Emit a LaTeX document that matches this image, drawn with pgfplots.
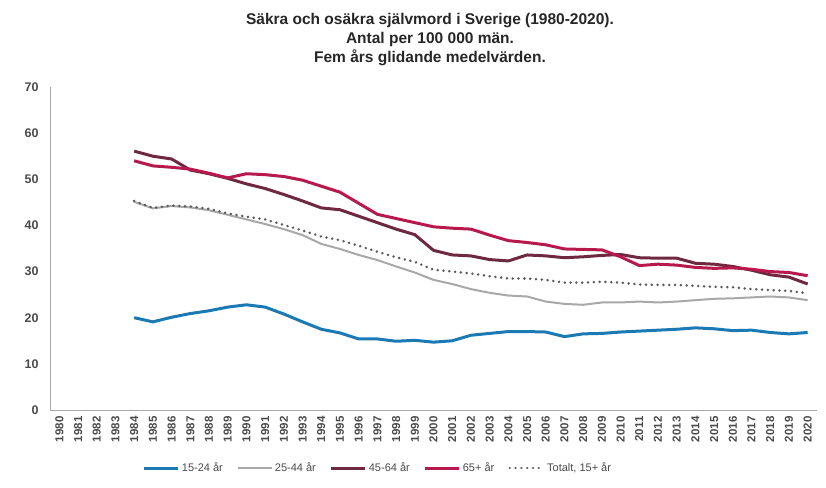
\documentclass[border=0pt]{standalone}
\usepackage{fontspec}
\setmainfont{Liberation Sans}
\usepackage{pgfplots}
\usepackage{pgfplotstable}
\pgfplotsset{compat=1.18}
\definecolor{cBlue}{HTML}{1B7AB3}
\definecolor{cGray}{HTML}{A8A8A8}
\definecolor{cMaroon}{HTML}{6E2840}
\definecolor{cRed}{HTML}{B8194C}
\definecolor{cDot}{HTML}{5A5A5A}
\definecolor{cTick}{HTML}{4A4A4A}
\pgfplotstableread{
year a b c d t
1984 20.0 45.1 56.1 54.0 45.3
1985 19.1 43.7 55.0 52.9 43.8
1986 20.1 44.2 54.4 52.6 44.3
1987 20.9 43.9 52.0 52.2 44.1
1988 21.5 43.3 51.2 51.3 43.6
1989 22.3 42.3 50.2 50.3 42.6
1990 22.8 41.3 49.0 51.2 41.9
1991 22.3 40.3 48.0 51.0 41.3
1992 20.8 39.2 46.7 50.6 40.1
1993 19.1 37.9 45.3 49.8 38.9
1994 17.5 36.0 43.8 48.5 37.6
1995 16.7 34.9 43.4 47.2 36.8
1996 15.4 33.6 42.0 44.8 35.6
1997 15.4 32.5 40.6 42.4 34.3
1998 14.9 31.1 39.2 41.5 33.1
1999 15.1 29.8 38.0 40.6 32.1
2000 14.7 28.2 34.6 39.7 30.4
2001 15.0 27.3 33.6 39.4 30.0
2002 16.2 26.2 33.4 39.2 29.6
2003 16.6 25.4 32.6 37.9 29.0
2004 17.0 24.8 32.3 36.7 28.5
2005 17.0 24.6 33.6 36.3 28.5
2006 16.9 23.5 33.4 35.8 28.2
2007 15.9 23.0 33.0 34.9 27.6
2008 16.5 22.8 33.2 34.8 27.6
2009 16.6 23.3 33.5 34.7 27.8
2010 16.9 23.3 33.7 33.2 27.6
2011 17.1 23.5 33.0 31.3 27.2
2012 17.3 23.3 32.9 31.6 27.1
2013 17.5 23.5 32.9 31.4 27.1
2014 17.8 23.8 31.8 30.9 26.9
2015 17.6 24.1 31.6 30.7 26.7
2016 17.2 24.2 31.1 30.8 26.6
2017 17.3 24.4 30.3 30.5 26.2
2018 16.8 24.6 29.3 30.0 26.0
2019 16.5 24.4 28.8 29.8 25.8
2020 16.8 23.8 27.3 29.1 25.3
}\data
\begin{document}
\begin{tikzpicture}
\path[use as bounding box] (0,0) rectangle (826pt,487pt);
\node[align=center, font=\fontsize{15.5}{19}\selectfont\bfseries, text=black!85] at (430pt,447pt)
  {Säkra och osäkra självmord i Sverige (1980-2020).\\Antal per 100 000 män.\\Fem års glidande medelvärden.};
\begin{axis}[
  at={(50pt,77pt)}, anchor=south west,
  scale only axis, width=767pt, height=323pt,
  xmin=1979.5, xmax=2020.5, ymin=0, ymax=70,
  xtick={1980,1981,...,2020}, ytick={0,10,...,70},
  axis x line*=bottom, axis y line*=left,
  axis line style={cGray, line width=1pt, -},
  major tick length=0pt,
  /pgf/number format/assume math mode=true,
  /pgf/number format/1000 sep={},
  x tick label style={rotate=90, anchor=east, font=\fontsize{11.5}{12}\selectfont\bfseries, text=cTick, xshift=-3pt},
  y tick label style={font=\fontsize{12.5}{13}\selectfont\bfseries, text=cTick, xshift=-8pt},
  legend columns=5,
  legend style={at={(0.4276,-0.1796)}, anchor=center, draw=none, fill=none,
    font=\fontsize{11}{12}\selectfont, text=cTick,
    /tikz/every even column/.append style={column sep=12pt}},
  legend cell align=left,
  legend image code/.code={\draw[#1] (0pt,0pt) -- (34pt,0pt);},
]
\addplot[cBlue, line width=3pt, line join=round] table[x=year,y=a]{\data};
\addlegendentry{15-24 år}
\addplot[cGray, line width=2pt, line join=round] table[x=year,y=b]{\data};
\addlegendentry{25-44 år}
\addplot[cMaroon, line width=3pt, line join=round] table[x=year,y=c]{\data};
\addlegendentry{45-64 år}
\addplot[cRed, line width=3pt, line join=round] table[x=year,y=d]{\data};
\addlegendentry{65+ år}
\addplot[cDot, line width=2.8pt, line cap=round, dash pattern=on 0.01pt off 5.8pt] table[x=year,y=t]{\data};
\addlegendentry{Totalt, 15+ år}
\end{axis}
\end{tikzpicture}
\end{document}
